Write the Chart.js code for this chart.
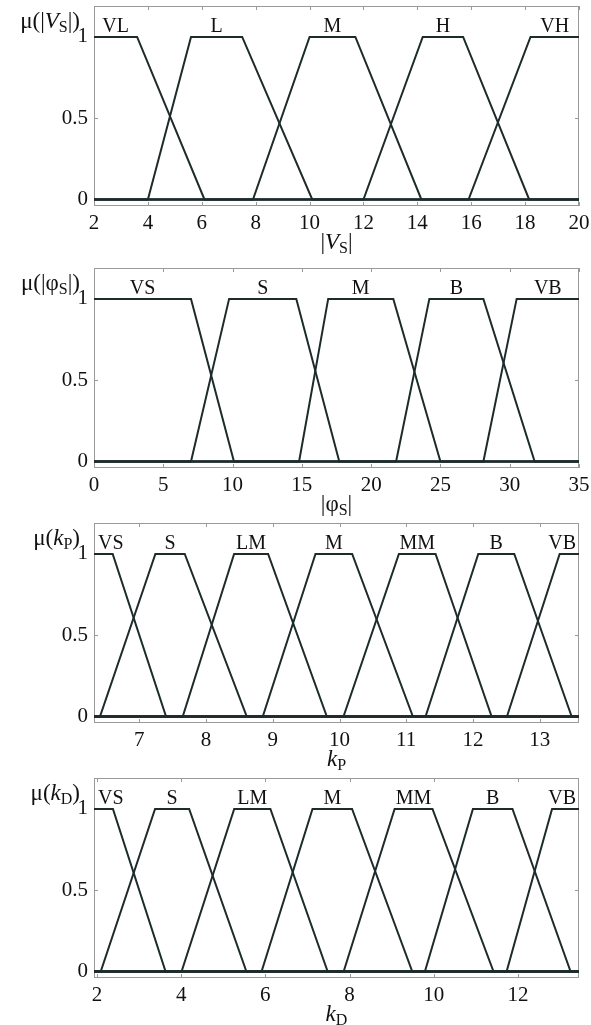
<!DOCTYPE html>
<html>
<head>
<meta charset="utf-8">
<script src="https://cdn.jsdelivr.net/npm/chart.js@4.4.0/dist/chart.umd.min.js"></script>
<style>
  html, body { margin: 0; padding: 0; background: #fff; overflow: hidden; }
  canvas { position: absolute; left: 0; }
</style>
</head>
<body>
<canvas id="vsChart" width="591" height="256" style="top:0px"></canvas>
<canvas id="phiChart" width="591" height="256" style="top:262px"></canvas>
<canvas id="kpChart" width="591" height="256" style="top:517px"></canvas>
<canvas id="kdChart" width="591" height="256" style="top:772px"></canvas>
<script>
// membership functions: each set is a trapezoid [a, b, c, d]
const yTicks = [0, 0.5, 1];
const yTickLabels = ['0', '0.5', '1'];

const vsRange = [2, 20];
const vsTicks = [2, 4, 6, 8, 10, 12, 14, 16, 18, 20];
const vsNames = ['VL', 'L', 'M', 'H', 'VH'];
const vsSets = [
  [2, 2, 3.6, 6.1],
  [4, 5.6, 7.5, 10.1],
  [7.9, 10, 11.7, 14.15],
  [12, 14.2, 15.7, 18.15],
  [15.9, 18.2, 20, 20]
];

const phiRange = [0, 35];
const phiTicks = [0, 5, 10, 15, 20, 25, 30, 35];
const phiNames = ['VS', 'S', 'M', 'B', 'VB'];
const phiSets = [
  [0, 0, 7, 10.1],
  [7, 9.75, 14.6, 17.7],
  [14.8, 16.9, 21.6, 25],
  [21.8, 24.2, 28.1, 31.8],
  [28.1, 30.5, 35, 35]
];

const kpRange = [6.32, 13.59];
const kpTicks = [7, 8, 9, 10, 11, 12, 13];
const kpNames = ['VS', 'S', 'LM', 'M', 'MM', 'B', 'VB'];
const kpSets = [
  [6.32, 6.32, 6.6, 7.4],
  [6.41, 7.24, 7.68, 8.61],
  [7.65, 8.42, 8.93, 9.81],
  [8.85, 9.64, 10.19, 11.1],
  [10.06, 10.89, 11.44, 12.28],
  [11.29, 12.08, 12.62, 13.48],
  [12.51, 13.3, 13.59, 13.59]
];

const kdRange = [1.93, 13.45];
const kdTicks = [2, 4, 6, 8, 10, 12];
const kdNames = ['VS', 'S', 'LM', 'M', 'MM', 'B', 'VB'];
const kdSets = [
  [1.93, 1.93, 2.38, 3.63],
  [2.09, 3.38, 4.19, 5.55],
  [4.01, 5.26, 6.12, 7.48],
  [5.91, 7.12, 8.06, 9.49],
  [7.86, 9.07, 9.97, 11.42],
  [9.79, 10.93, 11.87, 13.25],
  [11.73, 12.81, 13.45, 13.45]
];

const SERIF = '"Liberation Serif", "Times New Roman", serif';
const LINE = '#1d2b2b';
const TEXT = '#111';

function trapezoid(set, range) {
  const [a, b, c, d] = set;
  const pts = [];
  if (a > range[0]) { pts.push({x: range[0], y: 0}); pts.push({x: a, y: 0}); }
  pts.push({x: b, y: 1});
  pts.push({x: c, y: 1});
  if (d < range[1]) { pts.push({x: d, y: 0}); pts.push({x: range[1], y: 0}); }
  return pts;
}

function richFont(p) {
  return (p.i ? 'italic ' : '') + (p.sub ? 16 : 23) + 'px ' + SERIF;
}

function drawRich(ctx, parts, x, y, align) {
  let w = 0;
  parts.forEach(p => { ctx.font = richFont(p); w += ctx.measureText(p.t).width; });
  let cx = align === 'center' ? x - w / 2 : (align === 'right' ? x - w : x);
  ctx.textAlign = 'left';
  ctx.textBaseline = 'alphabetic';
  parts.forEach(p => {
    ctx.font = richFont(p);
    ctx.fillText(p.t, cx, y + (p.sub ? 4 : 0));
    cx += ctx.measureText(p.t).width;
  });
}

const decorations = {
  id: 'decorations',
  beforeDatasetsDraw(chart, args, opts) {
    const {ctx, chartArea: a, scales: {x, y}} = chart;
    ctx.save();
    ctx.strokeStyle = '#9a9a9a';
    ctx.lineWidth = 1;
    ctx.strokeRect(a.left + 0.5, a.top + 0.5, a.right - a.left - 1, a.bottom - a.top - 1);
    ctx.beginPath();
    x.ticks.forEach(t => {
      const px = Math.round(x.getPixelForValue(t.value)) + 0.5;
      ctx.moveTo(px, a.bottom); ctx.lineTo(px, a.bottom - 4);
      ctx.moveTo(px, a.top); ctx.lineTo(px, a.top + 4);
    });
    y.ticks.forEach(t => {
      const py = Math.round(y.getPixelForValue(t.value)) + 0.5;
      ctx.moveTo(a.left, py); ctx.lineTo(a.left + 4, py);
      ctx.moveTo(a.right, py); ctx.lineTo(a.right - 4, py);
    });
    ctx.stroke();
    ctx.restore();
  },
  afterDraw(chart, args, opts) {
    const {ctx, chartArea: a, scales: {x}} = chart;
    ctx.save();
    ctx.fillStyle = TEXT;

    // set names above each plateau
    ctx.font = '20px ' + SERIF;
    ctx.textAlign = 'center';
    ctx.textBaseline = 'alphabetic';
    opts.names.forEach((name, i) => {
      const s = opts.sets[i];
      const w = ctx.measureText(name).width;
      let px = x.getPixelForValue((s[1] + s[2]) / 2);
      px = Math.max(a.left + 4 + w / 2, Math.min(a.right - 3 - w / 2, px));
      ctx.fillText(name, px, a.top + 26);
    });

    drawRich(ctx, opts.yTitle, 80, a.top + 22, 'right');
    drawRich(ctx, opts.xTitle, (a.left + a.right) / 2, a.bottom + 43, 'center');
    ctx.restore();
  }
};

function makePanel(id, names, sets, range, ticks, yTitle, xTitle) {
  const ctx = document.getElementById(id).getContext('2d');
  return new Chart(ctx, {
    type: 'line',
    data: {
      datasets: sets.map((s, i) => ({
        label: names[i],
        data: trapezoid(s, range),
        borderColor: LINE,
        borderWidth: 2,
        pointRadius: 0,
        tension: 0,
        fill: false
      }))
    },
    options: {
      responsive: false,
      animation: false,
      layout: { padding: { top: 6, left: 0, right: 12, bottom: 0 } },
      plugins: {
        legend: { display: false },
        tooltip: { enabled: false },
        decorations: { names, sets, yTitle, xTitle }
      },
      scales: {
        x: {
          type: 'linear',
          min: range[0],
          max: range[1],
          afterBuildTicks: scale => { scale.ticks = ticks.map(v => ({ value: v })); },
          afterFit: scale => {
            scale.height = 50;
            scale.paddingLeft = 0;
            scale.paddingRight = 0;
          },
          grid: { display: false, drawTicks: false },
          border: { display: false },
          ticks: {
            font: { family: SERIF, size: 21 },
            color: TEXT,
            padding: 5,
            maxRotation: 0,
            autoSkip: false
          }
        },
        y: {
          type: 'linear',
          min: -0.04,
          max: 1.19,
          afterBuildTicks: scale => { scale.ticks = yTicks.map(v => ({ value: v })); },
          afterFit: scale => {
            scale.width = 94;
            scale.paddingTop = 0;
            scale.paddingBottom = 0;
          },
          grid: { display: false, drawTicks: false },
          border: { display: false },
          ticks: {
            font: { family: SERIF, size: 21 },
            color: TEXT,
            padding: 6,
            callback: v => yTickLabels[yTicks.indexOf(v)]
          }
        }
      }
    },
    plugins: [decorations]
  });
}

makePanel('vsChart', vsNames, vsSets, vsRange, vsTicks,
  [{t: 'μ(|'}, {t: 'V', i: true}, {t: 'S', sub: true}, {t: '|)'}],
  [{t: '|'}, {t: 'V', i: true}, {t: 'S', sub: true}, {t: '|'}]);
makePanel('phiChart', phiNames, phiSets, phiRange, phiTicks,
  [{t: 'μ(|φ'}, {t: 'S', sub: true}, {t: '|)'}],
  [{t: '|φ'}, {t: 'S', sub: true}, {t: '|'}]);
makePanel('kpChart', kpNames, kpSets, kpRange, kpTicks,
  [{t: 'μ('}, {t: 'k', i: true}, {t: 'P', sub: true}, {t: ')'}],
  [{t: 'k', i: true}, {t: 'P', sub: true}]);
makePanel('kdChart', kdNames, kdSets, kdRange, kdTicks,
  [{t: 'μ('}, {t: 'k', i: true}, {t: 'D', sub: true}, {t: ')'}],
  [{t: 'k', i: true}, {t: 'D', sub: true}]);
</script>
</body>
</html>
